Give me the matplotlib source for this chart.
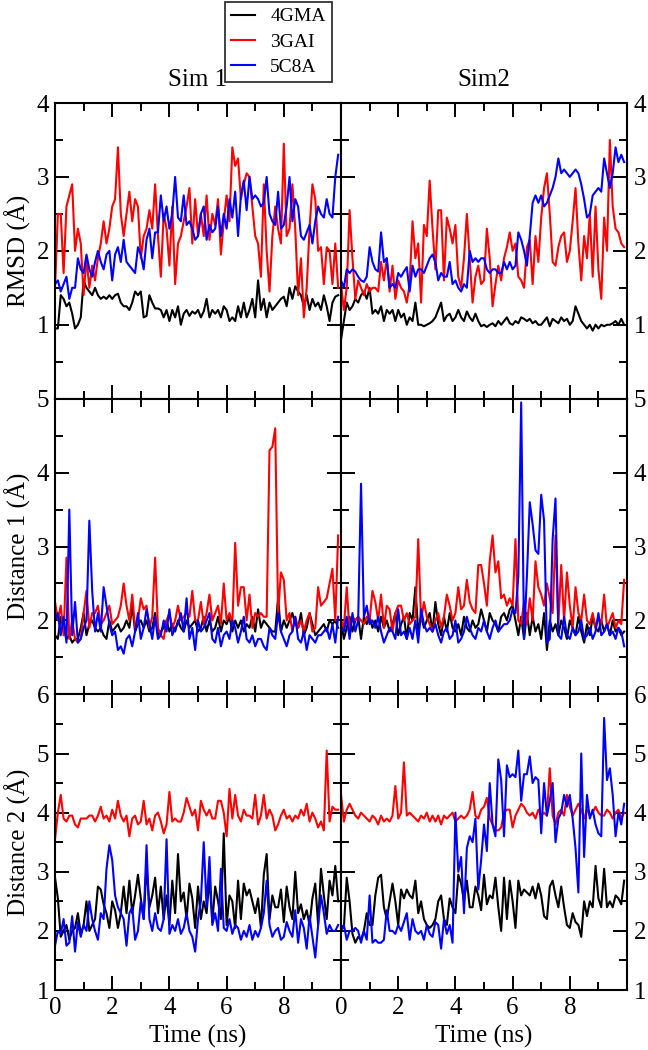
import numpy as np
import matplotlib.pyplot as plt
from matplotlib.ticker import MultipleLocator, FuncFormatter

plt.rcParams['font.family'] = ['Liberation Serif', 'DejaVu Serif']

series_names = ['4GMA', '3GAI', '5C8A']
series_colors = ['black', 'red', 'blue']
sim_titles = ['Sim 1', 'Sim2']
row_labels = ['RMSD (Å)', 'Distance 1 (Å)', 'Distance 2 (Å)']
row_ylims = [(0, 4), (1, 5), (1, 6)]
row_ticklabels = [[1, 2, 3, 4], [2, 3, 4, 5], [1, 2, 3, 4, 5, 6]]
x_ticklabels = [0, 2, 4, 6, 8]
dt = 0.1  # ns between frames

# ---- Sim 1, RMSD ----
rmsd1_4gma = [0.95, 0.95, 1.4, 1.35, 1.25, 1.3, 1.15, 0.95, 1.0, 1.1,
              1.6, 1.5, 1.45, 1.4, 1.5, 1.4, 1.35, 1.38, 1.35, 1.4,
              1.35, 1.4, 1.42, 1.3, 1.25, 1.25, 1.2, 1.3, 1.45, 1.4,
              1.45, 1.1, 1.12, 1.4, 1.3, 1.22, 1.22, 1.2, 1.1, 1.2,
              1.05, 1.2, 1.1, 1.25, 1.0, 1.15, 1.2, 1.12, 1.18, 1.15,
              1.2, 1.1, 1.18, 1.35, 1.1, 1.2, 1.15, 1.2, 1.1, 1.25,
              1.2, 1.05, 1.1, 1.05, 1.25, 1.1, 1.3, 1.1, 1.2, 1.35,
              1.1, 1.6, 1.2, 1.35, 1.1, 1.3, 1.2, 1.25, 1.3, 1.35,
              1.38, 1.25, 1.5, 1.35, 1.52, 1.45, 1.4, 1.25, 1.4, 1.2,
              1.35, 1.25, 1.3, 1.2, 1.4, 1.25, 1.05, 1.3, 1.38, 1.4]
rmsd1_3gai = [1.5, 2.5, 2.5, 1.7, 2.6, 2.75, 2.9, 2.0, 2.3, 2.1,
              1.4, 1.9, 1.5, 1.8, 1.6, 1.9, 2.1, 2.4, 2.1, 2.3,
              2.6, 2.7, 3.4, 2.5, 2.2, 2.5, 2.8, 2.4, 2.7, 2.6,
              1.9, 2.2, 2.3, 2.55, 2.3, 2.9, 2.2, 1.65, 2.5, 2.3,
              1.8, 2.6, 1.55, 2.1, 2.2, 2.4, 2.6, 2.85, 2.1, 2.7,
              2.2, 2.5, 2.2, 2.75, 2.15, 2.5, 2.35, 2.7, 1.95, 2.4,
              2.75, 2.4, 3.4, 3.15, 3.25, 2.7, 2.9, 3.05, 3.0, 2.6,
              2.2, 2.1, 1.65, 2.9, 2.0, 1.45, 2.2, 2.6, 2.3, 2.1,
              3.45, 2.2, 2.3, 2.9, 2.3, 1.4, 1.9, 1.1, 1.5, 2.3,
              2.9, 2.7, 2.0, 2.05, 1.55, 2.05, 2.0, 1.55, 2.1, 1.5]
rmsd1_5c8a = [1.55, 1.6, 1.45, 1.55, 1.65, 1.35, 1.5, 1.5, 1.9, 1.75,
              1.7, 1.95, 1.75, 1.65, 1.85, 2.0, 1.85, 1.75, 1.95, 2.0,
              1.6, 1.95, 2.05, 1.85, 2.15, 1.85, 1.8, 1.75, 1.7, 2.05,
              1.95, 1.75, 2.15, 2.3, 1.9, 2.25, 2.25, 2.75, 2.4, 2.6,
              2.3, 2.5, 3.0, 2.45, 2.4, 2.75, 2.35, 2.4, 2.3, 2.15,
              2.2, 2.5, 2.6, 2.15, 2.35, 2.25, 2.3, 2.6, 2.2, 2.5,
              2.3, 2.7, 2.45, 2.8, 2.2, 2.75, 2.95, 2.55, 3.0, 2.7,
              2.75, 2.7, 2.6, 2.65, 3.0, 2.5, 2.4, 2.35, 2.8, 2.3,
              2.35, 2.6, 3.0, 2.4, 2.7, 2.6, 2.2, 2.15, 2.25, 2.35,
              2.1, 2.4, 2.6, 2.5, 2.45, 2.7, 2.5, 2.45, 3.0, 3.3]

# ---- Sim 2, RMSD ----
rmsd2_4gma = [0.8, 1.05, 1.3, 1.2, 1.25, 1.35, 1.3, 1.4, 1.45, 1.35,
              1.5, 1.15, 1.2, 1.15, 1.25, 1.05, 1.2, 1.15, 1.2, 1.05,
              1.2, 1.1, 1.15, 1.0, 1.1, 1.05, 1.3, 1.0, 1.0, 0.98,
              1.0, 1.02, 1.05, 1.1, 1.2, 1.3, 1.05, 1.12, 1.15, 1.05,
              1.1, 1.2, 1.1, 1.05, 1.18, 1.1, 1.05, 1.15, 1.05, 0.98,
              1.0, 0.97, 1.0, 1.02, 0.98, 1.05, 1.0, 1.05, 1.1, 1.02,
              1.0, 1.05, 1.02, 1.1, 1.08, 1.05, 1.08, 1.02, 1.05, 1.0,
              1.0, 1.05, 1.1, 0.98, 1.08, 1.05, 1.02, 1.1, 1.05, 1.08,
              1.0, 1.05, 1.25, 1.15, 1.05, 1.0, 0.95, 1.0, 0.92, 1.0,
              0.95, 1.0, 0.98, 1.0, 1.0, 1.02, 1.05, 1.0, 1.08, 1.0]
rmsd2_3gai = [1.55, 1.2, 1.5, 2.55, 1.9, 1.35, 1.6, 1.5, 1.4, 1.55,
              1.45, 1.5, 1.5, 1.45, 1.85, 1.6, 1.9, 1.45, 1.8, 1.35,
              1.6, 1.5, 1.45, 1.3, 1.55, 2.4, 1.9, 2.1, 1.3, 2.35,
              2.2, 2.95, 2.3, 1.75, 2.55, 2.55, 1.6, 2.45, 2.3, 2.1,
              2.35, 1.65, 1.5, 1.9, 2.5, 1.9, 1.3, 1.65, 1.8, 1.55,
              1.6, 2.3, 1.9, 1.25, 1.55, 1.8, 1.6, 1.9, 2.05, 2.25,
              2.0, 2.1, 1.65, 1.6, 1.5, 2.05, 2.15, 1.55, 2.2, 1.85,
              2.45, 2.85, 3.05, 2.5, 1.85, 1.8, 2.05, 2.2, 2.25, 1.85,
              2.0, 2.4, 2.85, 2.1, 1.6, 2.2, 1.9, 2.5, 1.65, 2.6,
              1.75, 1.35, 2.45, 2.0, 3.5, 2.6, 2.3, 2.25, 2.1, 2.05]
rmsd2_5c8a = [1.6, 1.5, 1.75, 1.7, 1.75, 1.72, 1.65, 1.6, 1.58, 1.65,
              2.05, 1.85, 1.75, 1.72, 2.25, 1.85, 1.9, 1.5, 1.55, 1.5,
              1.7, 1.65, 1.72, 1.78, 1.45, 1.8, 1.65, 1.75, 1.75, 1.7,
              1.8, 1.9, 1.95, 1.85, 1.6, 1.7, 1.65, 1.65, 1.85, 1.55,
              1.6, 1.5, 1.45, 1.55, 1.5, 2.0, 1.85, 1.9, 1.85, 1.9,
              1.9, 1.75, 1.7, 1.75, 1.75, 1.7, 1.7, 1.85, 1.75, 1.85,
              1.75, 1.8, 2.25, 2.15, 2.0, 1.8, 2.2, 2.65, 2.75, 2.65,
              2.75, 2.6, 2.65, 2.75, 2.85, 3.0, 3.25, 3.05, 3.1, 3.05,
              3.0, 3.05, 3.1, 3.05, 2.9, 2.7, 2.45, 2.5, 2.75, 2.8,
              2.85, 2.8, 3.25, 3.05, 2.85, 3.05, 3.4, 3.2, 3.3, 3.2]

# ---- Sim 1, Distance 1 ----
dist1_1_4gma = [1.8, 1.75, 2.05, 1.9, 1.75, 1.8, 1.7, 1.75, 1.75, 1.9,
                2.1, 1.8, 1.95, 2.0, 1.9, 1.85, 1.9, 1.8, 1.75, 2.0,
                1.85, 1.9, 1.95, 1.85, 1.9, 2.0, 1.9, 2.2, 1.85, 1.95,
                2.0, 1.9, 2.0, 1.85, 1.9, 2.1, 1.8, 1.85, 1.9, 2.0,
                1.85, 1.95, 1.85, 2.0, 1.9, 1.85, 2.0, 1.9, 1.95, 2.0,
                1.85, 1.9, 2.05, 1.85, 2.0, 1.85, 1.9, 2.05, 1.85, 2.0,
                1.95, 2.05, 1.85, 2.0, 1.9, 2.0, 1.85, 1.95, 1.9, 2.05,
                1.85, 2.15, 1.9, 2.0, 1.95, 1.9, 1.85, 1.85, 2.3, 1.85,
                2.0, 1.9, 2.0, 2.1, 1.95, 1.9, 2.1, 1.8, 1.9, 2.1,
                1.95, 1.8, 1.85, 1.9, 1.95, 1.85, 2.0, 1.95, 2.0, 1.9]
dist1_1_3gai = [2.25, 2.0, 2.2, 1.8, 2.85, 1.75, 2.0, 1.75, 1.7, 1.75,
                2.1, 2.4, 1.9, 2.1, 2.1, 2.2, 1.95, 2.0, 2.1, 2.2,
                1.95, 2.0, 2.05, 2.2, 2.5, 2.2, 2.0, 2.35, 1.9, 2.0,
                2.3, 2.15, 2.2, 1.9, 2.05, 2.85, 1.9, 1.8, 1.75, 2.0,
                2.1, 1.9, 2.0, 2.2, 2.0, 2.05, 2.1, 2.05, 2.4, 2.0,
                2.0, 2.25, 1.95, 2.1, 2.35, 2.0, 2.1, 2.2, 1.95, 2.5,
                2.0, 2.1, 1.95, 3.05, 2.2, 2.45, 2.45, 2.0, 2.35, 1.9,
                2.1, 2.05, 2.1, 2.05, 2.05, 4.3, 4.35, 4.6, 2.1, 2.65,
                2.55, 2.0, 2.1, 1.85, 2.05, 1.9, 2.0, 1.85, 2.0, 2.1,
                1.85, 1.9, 2.45, 2.2, 2.25, 2.3, 2.5, 2.7, 2.0, 3.15]
dist1_1_5c8a = [2.0, 2.1, 1.8, 2.05, 1.7, 3.5, 1.8, 2.25, 1.7, 1.75,
                1.9, 2.0, 3.35, 2.4, 1.85, 2.1, 1.85, 2.45, 2.2, 1.95,
                1.8, 1.85, 1.6, 1.65, 1.55, 1.75, 1.8, 1.65, 1.85, 2.1,
                1.75, 1.9, 2.15, 1.95, 1.75, 2.05, 1.75, 1.8, 2.0, 1.85,
                2.15, 1.8, 1.9, 1.95, 2.1, 1.85, 2.3, 1.75, 1.9, 1.6,
                2.0, 1.85, 1.9, 2.0, 2.1, 1.75, 1.7, 1.9, 1.65, 1.8,
                1.85, 1.75, 2.0, 1.9, 1.7, 1.85, 2.05, 1.75, 1.7, 1.8,
                1.65, 1.75, 1.75, 1.65, 1.6, 1.9, 1.8, 1.75, 2.1, 1.85,
                1.75, 1.65, 1.8, 1.85, 2.05, 1.75, 1.7, 1.85, 1.6, 1.8,
                1.75, 1.7, 1.8, 1.8, 1.85, 1.9, 1.75, 1.95, 1.7, 2.05]

# ---- Sim 2, Distance 1 ----
dist1_2_4gma = [2.0, 1.75, 1.9, 2.05, 1.85, 2.0, 2.05, 1.75, 2.05, 1.95,
                2.05, 1.9, 2.0, 1.85, 2.05, 1.9, 2.0, 1.85, 1.95, 2.1,
                1.8, 1.95, 2.05, 1.75, 2.1, 2.0, 2.45, 1.85, 2.05, 1.9,
                2.0, 2.1, 1.85, 2.25, 1.95, 1.8, 2.05, 1.85, 2.1, 1.9,
                1.85, 1.95, 1.8, 2.05, 1.9, 1.85, 2.0, 1.9, 1.95, 2.15,
                2.0, 1.85, 2.1, 2.0, 1.95, 1.85, 2.05, 2.1, 2.0, 2.15,
                2.2, 2.0, 1.8, 2.05, 1.75, 2.1, 1.8, 2.05, 1.85, 1.95,
                1.75, 2.1, 1.6, 2.0, 1.85, 1.95, 1.8, 2.0, 1.9, 1.75,
                2.0, 1.9, 1.8, 2.05, 1.85, 1.7, 1.95, 1.8, 2.05, 1.9,
                1.85, 2.0, 1.85, 1.95, 1.8, 2.0, 1.85, 1.9, 1.8, 1.85]
dist1_2_3gai = [2.0, 1.9, 2.45, 1.85, 2.05, 2.0, 2.05, 2.0, 1.95, 2.05,
                2.0, 2.4, 2.25, 2.0, 2.35, 1.9, 2.2, 2.15, 1.85, 2.1,
                2.2, 2.2, 2.0, 2.1, 1.95, 2.0, 2.05, 3.1, 2.0, 2.25,
                2.05, 1.95, 1.85, 2.0, 2.1, 1.9, 2.05, 2.35, 2.2, 2.0,
                2.1, 2.45, 2.15, 2.2, 2.55, 2.25, 2.15, 2.1, 2.75, 2.75,
                2.5, 2.2, 2.8, 3.15, 2.65, 2.8, 2.3, 2.35, 2.2, 2.3,
                2.2, 3.1, 2.0, 1.95, 2.25, 1.95, 2.3, 2.0, 2.8, 2.45,
                2.35, 2.2, 2.5, 2.3, 2.1, 3.15, 1.95, 2.75, 2.0, 2.65,
                2.2, 1.9, 2.45, 2.1, 2.0, 2.35, 2.0, 1.95, 2.1, 1.9,
                2.05, 1.95, 2.35, 1.9, 2.0, 2.1, 1.9, 2.0, 1.95, 2.55]
dist1_2_5c8a = [1.9, 1.85, 2.05, 1.75, 2.1, 1.85, 2.0, 3.85, 2.05, 2.2,
                1.95, 2.0, 1.9, 2.05, 1.85, 1.7, 1.8, 1.9, 1.85, 1.75,
                2.15, 1.8, 1.85, 1.75, 1.9, 1.75, 2.0, 1.7, 2.15, 1.95,
                1.85, 1.9, 1.85, 1.95, 1.8, 1.7, 1.85, 1.9, 1.75, 1.8,
                2.0, 1.7, 1.75, 1.85, 2.05, 1.9, 1.8, 1.75, 1.9, 1.85,
                2.0, 1.85, 1.75, 1.9, 2.0, 1.85, 1.9, 1.95, 1.95, 2.0,
                2.15, 2.1, 2.6, 4.95, 1.75, 2.6, 3.6, 3.3, 2.95, 2.9,
                3.7, 3.35, 1.7, 1.75, 3.1, 3.65, 1.8, 1.75, 2.05, 1.8,
                1.75, 1.9, 1.8, 1.85, 2.0, 1.75, 1.8, 1.9, 1.75, 1.85,
                2.1, 1.8, 1.85, 1.95, 1.8, 1.85, 1.75, 1.9, 1.85, 1.65]

# ---- Sim 1, Distance 2 ----
dist2_1_4gma = [2.9, 2.55, 1.9, 2.0, 2.1, 1.85, 2.0, 2.05, 2.3, 1.95,
                2.1, 2.5, 2.0, 2.1, 2.2, 2.75, 2.7, 2.45, 2.3, 2.05,
                2.5, 2.35, 2.05, 2.3, 2.75, 2.3, 2.85, 2.3, 2.6, 2.95,
                2.55, 2.2, 3.1, 2.4, 2.6, 2.9, 2.3, 2.75, 2.2, 2.6,
                2.1, 2.85, 2.3, 3.3, 2.5, 2.65, 2.2, 2.8, 2.55, 2.05,
                2.75, 2.2, 2.5, 2.3, 2.9, 2.15, 2.75, 2.5, 2.2, 3.65,
                2.1, 2.6, 2.5, 2.05, 2.85, 2.2, 2.8, 2.6, 2.7, 2.5,
                2.3, 2.55, 2.05, 2.95, 3.3, 2.2, 2.6, 2.4, 2.4, 2.7,
                2.15, 2.75, 2.4, 2.2, 3.0, 2.3, 2.45, 2.2, 2.35, 2.1,
                2.55, 2.8, 2.1, 3.05, 2.6, 2.2, 2.85, 2.6, 3.1, 2.5]
dist2_1_3gai = [3.55, 4.0, 4.3, 3.9, 3.85, 3.95, 3.95, 3.8, 3.75, 3.9,
                3.9, 3.9, 3.95, 3.95, 3.85, 3.95, 4.1, 3.9, 3.95, 3.85,
                4.05, 3.9, 4.2, 3.95, 3.85, 3.95, 3.6, 3.9, 3.95, 3.8,
                3.85, 4.2, 3.8, 3.9, 3.7, 3.95, 4.0, 3.85, 3.65, 3.8,
                4.35, 3.85, 3.9, 3.85, 3.85, 4.0, 4.25, 4.1, 3.95, 4.05,
                3.7, 4.2, 4.05, 3.95, 4.05, 3.9, 3.9, 4.2, 4.2, 4.0,
                3.6, 4.4, 3.9, 4.3, 3.95, 3.85, 4.05, 3.95, 3.95, 3.9,
                4.3, 3.8, 3.95, 4.3, 3.9, 4.05, 3.95, 3.7, 3.8, 3.95,
                4.05, 3.9, 3.95, 3.85, 3.95, 3.9, 4.05, 3.95, 4.15, 3.85,
                4.0, 3.9, 3.75, 3.85, 3.7, 5.05, 3.85, 4.1, 4.05, 4.05]
dist2_1_5c8a = [1.75, 2.0, 1.95, 2.2, 1.75, 1.8, 2.25, 1.65, 2.15, 1.9,
                2.1, 2.0, 2.5, 2.2, 2.0, 1.85, 2.3, 2.2, 3.05, 3.45,
                3.2, 2.6, 2.4, 2.3, 2.2, 1.75, 2.3, 2.4, 1.85, 2.0,
                2.5, 2.2, 3.45, 2.2, 2.0, 2.3, 2.05, 2.0, 2.2, 3.55,
                1.95, 2.1, 2.0, 2.2, 1.95, 2.05, 2.3, 2.0, 1.9, 1.65,
                2.2, 2.5, 3.5, 2.4, 3.25, 2.1, 2.3, 2.0, 3.05, 2.05,
                2.0, 2.2, 1.95, 2.1, 2.05, 1.85, 2.0, 1.9, 2.1, 1.85,
                2.0, 1.9, 2.05, 2.3, 2.85, 2.1, 1.9, 2.0, 2.05, 1.85,
                1.9, 2.15, 2.0, 1.9, 2.35, 1.8, 2.2, 2.05, 1.7, 2.25,
                1.9, 1.55, 2.1, 2.6, 2.3, 1.95, 2.1, 2.0, 2.0, 2.1]

# ---- Sim 2, Distance 2 ----
dist2_2_4gma = [2.1, 2.05, 2.9, 2.5, 1.95, 1.8, 1.9, 1.85, 2.0, 2.3,
                2.1, 2.1, 2.6, 2.9, 2.95, 2.4, 2.2, 2.5, 2.8, 2.5,
                2.1, 2.7, 2.55, 2.7, 2.6, 2.55, 2.85, 2.3, 2.5, 2.2,
                2.1, 2.05, 2.1, 2.2, 2.5, 2.6, 2.2, 2.1, 2.55, 2.4,
                2.3, 2.95, 2.8, 2.5, 2.85, 2.4, 2.4, 2.75, 2.6, 2.35,
                2.95, 2.45, 2.6, 2.55, 2.9, 2.4, 2.0, 2.9, 2.2, 2.85,
                2.5, 2.05, 2.85, 2.6, 2.7, 2.65, 2.6, 2.75, 2.55, 2.8,
                2.6, 2.25, 2.2, 2.75, 2.85, 2.6, 2.4, 2.75, 2.4, 2.1,
                2.05, 2.3, 2.15, 2.1, 1.9, 2.5, 2.25, 2.5, 2.4, 3.1,
                2.55, 2.4, 3.05, 2.4, 2.5, 2.4, 2.6, 2.55, 2.45, 2.85]
dist2_2_3gai = [4.3, 3.85, 4.05, 4.15, 4.05, 3.95, 3.9, 4.0, 3.95, 3.9,
                3.85, 3.95, 3.9, 3.8, 3.95, 3.85, 3.9, 3.85, 3.95, 4.45,
                3.9, 4.0, 4.85, 3.95, 4.0, 3.95, 3.9, 3.85, 3.95, 3.9,
                4.0, 3.85, 3.95, 3.85, 3.95, 3.8, 3.95, 3.9, 3.95, 4.0,
                3.85, 3.9, 3.95, 3.9, 3.95, 4.05, 4.35, 3.95, 3.9, 4.05,
                4.1, 4.25, 3.9, 3.8, 3.7, 3.7, 3.75, 4.0, 4.05, 4.05,
                3.75, 3.95, 4.05, 4.15, 4.1, 4.0, 3.95, 4.0, 3.9, 4.05,
                3.95, 4.0, 3.95, 4.75, 3.95, 3.8, 4.0, 4.05, 3.95, 4.3,
                4.1, 3.95, 4.05, 4.15, 4.05, 3.9, 4.05, 3.95, 4.0, 4.1,
                4.0, 3.95, 3.95, 4.05, 4.0, 3.9, 4.0, 4.05, 3.9, 4.0]
dist2_2_5c8a = [2.0, 2.1, 1.85, 2.0, 2.0, 2.05, 2.0, 1.8, 2.0, 1.85,
                2.6, 1.8, 1.85, 1.8, 1.8, 1.85, 2.35, 2.0, 2.0, 1.95,
                2.1, 2.0, 2.15, 2.3, 1.85, 2.2, 2.0, 1.95, 2.0, 1.85,
                2.1, 1.95, 1.9, 2.15, 2.1, 1.7, 2.2, 1.95, 2.1, 1.8,
                4.0, 3.0, 3.25, 2.3, 3.4, 3.6, 3.5, 3.9, 2.7, 3.2,
                3.8, 3.35, 4.5, 3.8, 3.6, 4.9, 4.55, 3.6, 4.8, 4.6,
                4.65, 4.6, 5.05, 4.2, 4.65, 4.65, 4.95, 4.5, 4.6, 4.55,
                3.65, 4.5, 3.95, 4.2, 4.5, 3.5, 3.9, 4.0, 4.3, 4.1,
                4.3, 3.9, 3.4, 2.65, 5.0, 3.25, 4.3, 3.9, 4.05, 3.8,
                3.65, 3.6, 5.6, 4.55, 4.75, 4.3, 3.6, 4.0, 3.8, 4.15]

panels = [
    [[rmsd1_4gma, rmsd1_3gai, rmsd1_5c8a], [rmsd2_4gma, rmsd2_3gai, rmsd2_5c8a]],
    [[dist1_1_4gma, dist1_1_3gai, dist1_1_5c8a], [dist1_2_4gma, dist1_2_3gai, dist1_2_5c8a]],
    [[dist2_1_4gma, dist2_1_3gai, dist2_1_5c8a], [dist2_2_4gma, dist2_2_3gai, dist2_2_5c8a]],
]

fig, axes = plt.subplots(nrows=3, ncols=2, figsize=(6.48, 10.5), dpi=100)
fig.subplots_adjust(left=0.0849, right=0.9676, top=0.9019, bottom=0.0571,
                    wspace=0, hspace=0)


def make_formatter(shown):
    return FuncFormatter(lambda v, p: '%g' % v if round(v, 3) in shown else '')


for r in range(3):
    for c in range(2):
        ax = axes[r, c]
        for k in range(3):
            y = np.array(panels[r][c][k])
            t = np.arange(len(y)) * dt
            ax.plot(t, y, color=series_colors[k], lw=1.5,
                    label=series_names[k])
        ax.set_xlim(0, 10)
        ax.set_ylim(*row_ylims[r])
        ax.xaxis.set_major_locator(MultipleLocator(2))
        ax.xaxis.set_minor_locator(MultipleLocator(1))
        ax.yaxis.set_major_locator(MultipleLocator(1))
        ax.yaxis.set_minor_locator(MultipleLocator(0.5))
        ax.tick_params(which='both', direction='in', top=True, bottom=True,
                       left=True, right=True, width=1.4, labelsize=18)
        ax.tick_params(which='major', length=10)
        ax.tick_params(which='minor', length=5.5)
        for sp in ax.spines.values():
            sp.set_linewidth(1.5)
        ax.yaxis.set_major_formatter(make_formatter(row_ticklabels[r]))
        if c == 0:
            ax.tick_params(labelleft=True, labelright=False, pad=4)
        else:
            ax.tick_params(labelleft=False, labelright=True, pad=5)
        if r == 2:
            ax.xaxis.set_major_formatter(make_formatter(x_ticklabels))
            ax.tick_params(axis='x', labelbottom=True, pad=5)
            ax.set_xlabel('Time (ns)', fontsize=18, labelpad=4)
        else:
            ax.tick_params(axis='x', labelbottom=False)
        if r == 0:
            ax.set_title(sim_titles[c], fontsize=18, pad=12)
    axes[r, 0].set_ylabel(row_labels[r], fontsize=18, labelpad=4)

handles, labels = axes[0, 0].get_legend_handles_labels()
leg = fig.legend(handles, labels, loc='upper center',
                 bbox_to_anchor=(278.5 / 648, 1 - 2 / 1050),
                 fontsize=14, frameon=True, fancybox=False, edgecolor='black',
                 handlelength=1.2, handletextpad=0.8, labelspacing=0.4,
                 borderpad=0.3, borderaxespad=0)
leg.get_frame().set_linewidth(1.3)

fig.savefig('out.png', dpi=100)
